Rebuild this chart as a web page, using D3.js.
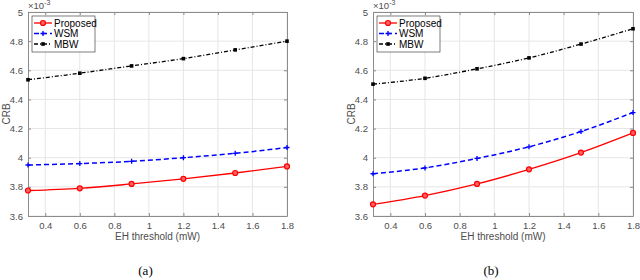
<!DOCTYPE html>
<html>
<head>
<meta charset="utf-8">
<script src="https://d3js.org/d3.v7.min.js"></script>
<style>
  body { margin: 0; background: #fff; }
  text { font-family: "Liberation Sans", Arial, sans-serif; }
  .tick text { fill: #4d4d4d; font-size: 9.5px; }
  .caption { font-family: "Liberation Serif", "Times New Roman", serif; font-size: 13px; fill: #000; }
</style>
</head>
<body>
<div id="chartHere"></div>
<script>
// EH threshold values (mW)
var thresholds = [0.3, 0.6, 0.9, 1.2, 1.5, 1.8];
var seriesNames = ['Proposed', 'WSM', 'MBW'];
var xTicks = [0.4, 0.6, 0.8, 1, 1.2, 1.4, 1.6, 1.8];
var yTicks = [3.6, 3.8, 4, 4.2, 4.4, 4.6, 4.8, 5];

// CRB values (x 10^-3), panel (a)
var proposedA = [3.775, 3.79, 3.82, 3.855, 3.895, 3.94];
var wsmA      = [3.95, 3.96, 3.975, 4.0, 4.03, 4.07];
var mbwA      = [4.535, 4.58, 4.63, 4.68, 4.74, 4.80];

// panel (b)
var proposedB = [3.68, 3.74, 3.82, 3.92, 4.035, 4.17];
var wsmB      = [3.89, 3.93, 3.995, 4.075, 4.18, 4.31];
var mbwB      = [4.505, 4.545, 4.61, 4.685, 4.78, 4.885];

var styles = {
  'Proposed': { color: '#ff0000', dash: null, width: 1.3, marker: 'circle' },
  'WSM':      { color: '#0000ff', dash: '5,3', width: 1.5, marker: 'plus' },
  'MBW':      { color: '#000000', dash: '4,2,1,2', width: 1.3, marker: 'square' }
};

var svg = d3.select('#chartHere').append('svg')
  .attr('width', 640).attr('height', 280);

function drawPanel(left, right, data, caption) {
  var top = 12, bottom = 216;
  var x = d3.scaleLinear().domain([0.3, 1.8]).range([left, right]);
  var y = d3.scaleLinear().domain([3.6, 5]).range([bottom, top]);
  var g = svg.append('g');

  // grid
  g.selectAll('line.vgrid').data(xTicks).enter().append('line')
    .attr('x1', function (d) { return x(d); }).attr('x2', function (d) { return x(d); })
    .attr('y1', top).attr('y2', bottom)
    .attr('stroke', '#e6e6e6').attr('stroke-width', 1);
  g.selectAll('line.hgrid').data(yTicks).enter().append('line')
    .attr('x1', left).attr('x2', right)
    .attr('y1', function (d) { return y(d); }).attr('y2', function (d) { return y(d); })
    .attr('stroke', '#e6e6e6').attr('stroke-width', 1);

  // axes
  var xAxis = d3.axisBottom(x).tickValues(xTicks).tickSizeInner(-3).tickSizeOuter(0)
    .tickPadding(6).tickFormat(d3.format('~g'));
  var yAxis = d3.axisLeft(y).tickValues(yTicks).tickSizeInner(-3).tickSizeOuter(0)
    .tickPadding(5).tickFormat(d3.format('~g'));
  var xTop = d3.axisTop(x).tickValues(xTicks).tickSizeInner(-3).tickSizeOuter(0).tickFormat('');
  var yRight = d3.axisRight(y).tickValues(yTicks).tickSizeInner(-3).tickSizeOuter(0).tickFormat('');

  [[xAxis, 'translate(0,' + bottom + ')'], [yAxis, 'translate(' + left + ',0)'],
   [xTop, 'translate(0,' + top + ')'], [yRight, 'translate(' + right + ',0)']].forEach(function (a) {
    var ag = g.append('g').attr('transform', a[1]).call(a[0]);
    ag.select('.domain').attr('stroke', '#8c8c8c');
    ag.selectAll('.tick line').attr('stroke', '#8c8c8c');
  });

  // exponent label
  var ex = g.append('text').attr('x', left).attr('y', 9).attr('fill', '#4d4d4d').attr('font-size', 9.5);
  ex.append('tspan').text('\u00d710');
  ex.append('tspan').attr('dy', -4).attr('font-size', 7).text('-3');

  // axis labels
  g.append('text').attr('x', (left + right) / 2).attr('y', 240)
    .attr('text-anchor', 'middle').attr('fill', '#4d4d4d').attr('font-size', 10)
    .text('EH threshold (mW)');
  g.append('text').attr('transform', 'translate(' + (left - 18) + ',' + ((top + bottom) / 2) + ') rotate(-90)')
    .attr('text-anchor', 'middle').attr('fill', '#4d4d4d').attr('font-size', 10)
    .text('CRB');

  // series
  var line = d3.line().x(function (d, i) { return x(thresholds[i]); }).y(function (d) { return y(d); })
    .curve(d3.curveMonotoneX);
  seriesNames.forEach(function (name, k) {
    var s = styles[name];
    var vals = data[k];
    g.append('path').datum(vals).attr('d', line)
      .attr('fill', 'none').attr('stroke', s.color).attr('stroke-width', s.width)
      .attr('stroke-dasharray', s.dash);
    vals.forEach(function (v, i) {
      drawMarker(g, s, x(thresholds[i]), y(v));
    });
  });

  // legend
  var lx = left + 4, ly = 16;
  var lg = g.append('g');
  lg.append('rect').attr('x', lx).attr('y', ly).attr('width', 63).attr('height', 36)
    .attr('fill', '#fff').attr('stroke', '#262626').attr('stroke-width', 0.6);
  seriesNames.forEach(function (name, k) {
    var s = styles[name];
    var yy = ly + 7 + k * 10.5;
    lg.append('line').attr('x1', lx + 2).attr('x2', lx + 20).attr('y1', yy).attr('y2', yy)
      .attr('stroke', s.color).attr('stroke-width', s.width).attr('stroke-dasharray', s.dash);
    drawMarker(lg, s, lx + 11, yy);
    lg.append('text').attr('x', lx + 22).attr('y', yy + 3.5).attr('font-size', 10)
      .attr('fill', '#000').text(name);
  });

  svg.append('text').attr('class', 'caption').attr('x', (left + right) / 2 - 12).attr('y', 275)
    .attr('text-anchor', 'middle').text(caption);
}

function drawMarker(g, s, cx, cy) {
  if (s.marker === 'circle') {
    g.append('circle').attr('cx', cx).attr('cy', cy).attr('r', 2.5)
      .attr('fill', '#ff6060').attr('stroke', s.color).attr('stroke-width', 1.2);
  } else if (s.marker === 'plus') {
    g.append('path').attr('d', 'M' + (cx - 2.5) + ',' + cy + 'H' + (cx + 2.5) + 'M' + cx + ',' + (cy - 2.5) + 'V' + (cy + 2.5))
      .attr('stroke', s.color).attr('stroke-width', 1.3);
  } else {
    g.append('rect').attr('x', cx - 1.8).attr('y', cy - 1.8).attr('width', 3.6).attr('height', 3.6)
      .attr('fill', s.color);
  }
}

drawPanel(28, 287, [proposedA, wsmA, mbwA], '(a)');
drawPanel(373, 633, [proposedB, wsmB, mbwB], '(b)');
</script>
</body>
</html>
